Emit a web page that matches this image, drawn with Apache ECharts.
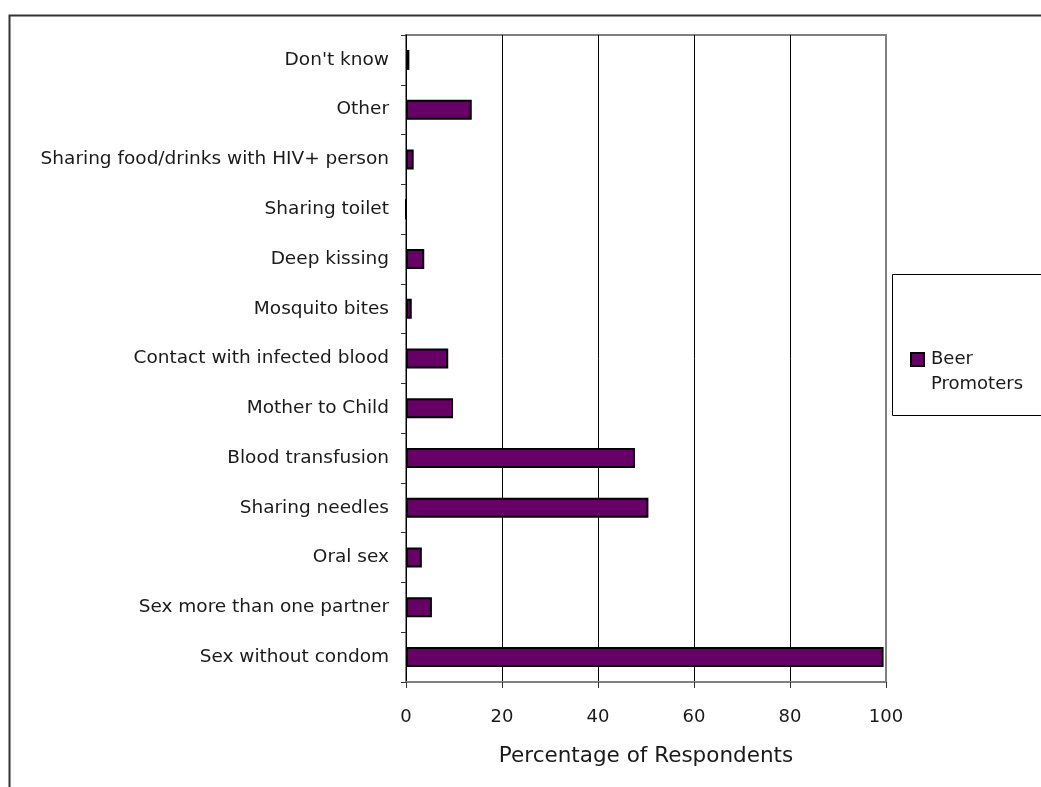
<!DOCTYPE html>
<html>
<head>
<meta charset="utf-8">
<script src="https://cdn.jsdelivr.net/npm/echarts@6/dist/echarts.min.js"></script>
<style>
  html, body { margin: 0; padding: 0; background: #fff; }
  #chart { width: 1041px; height: 787px; }
</style>
</head>
<body>
<div id="chart"></div>
<script>
// Modes of HIV transmission named by respondents (top to bottom)
const categories = [
  "Don't know",
  "Other",
  "Sharing food/drinks with HIV+ person",
  "Sharing toilet",
  "Deep kissing",
  "Mosquito bites",
  "Contact with infected blood",
  "Mother to Child",
  "Blood transfusion",
  "Sharing needles",
  "Oral sex",
  "Sex more than one partner",
  "Sex without condom"
];
const beerPromoters = [0.7, 13.7, 1.6, 0, 3.8, 1.2, 8.8, 9.8, 47.7, 50.5, 3.3, 5.4, 99.5];
const xTicks = [0, 20, 40, 60, 80, 100];
const seriesName = 'Beer Promoters';
const xAxisTitle = 'Percentage of Respondents';

const FONT = 'DejaVu Sans';
const BAR = '#660066';
const INK = '#1a1a1a';

const chart = echarts.init(document.getElementById('chart'), null, { renderer: 'canvas' });

// plot rectangle in pixels
const plotLeft = 406, plotTop = 35, plotRight = 886, plotBottom = 682;

chart.setOption({
  animation: false,
  backgroundColor: '#ffffff',
  textStyle: { fontFamily: FONT },
  grid: {
    left: plotLeft, top: plotTop,
    width: plotRight - plotLeft, height: plotBottom - plotTop,
    show: true, borderColor: '#808080', borderWidth: 2
  },
  xAxis: {
    type: 'value',
    min: xTicks[0], max: xTicks[xTicks.length - 1], interval: 20,
    name: xAxisTitle,
    nameLocation: 'middle',
    nameGap: 63,
    nameTextStyle: { fontFamily: FONT, fontSize: 21.5, color: INK },
    axisLine: { show: true, lineStyle: { color: '#808080', width: 2 } },
    axisTick: { show: true, length: 6, lineStyle: { color: '#333' } },
    axisLabel: { fontFamily: FONT, fontSize: 18, color: INK, margin: 26 },
    splitLine: { show: true, showMinLine: false, showMaxLine: false, lineStyle: { color: '#000', width: 1 } }
  },
  yAxis: {
    type: 'category',
    data: categories,
    inverse: true,
    axisLine: { show: true, lineStyle: { color: '#000', width: 1 } },
    axisTick: { show: true, length: 5, inside: false, lineStyle: { color: '#333' } },
    axisLabel: { fontFamily: FONT, fontSize: 18.5, color: INK, margin: 17 },
    splitLine: { show: false }
  },
  series: [{
    name: seriesName,
    type: 'bar',
    data: beerPromoters,
    barWidth: 20,
    itemStyle: { color: BAR, borderColor: '#000', borderWidth: 2 }
  }],
  graphic: [
    // outer chart frame
    { type: 'polyline', shape: { points: [[9.5, 787], [9.5, 15.5], [1041, 15.5]] },
      style: { stroke: '#333', lineWidth: 2, fill: null }, z: 10 },
    // legend box
    { type: 'rect', shape: { x: 892.5, y: 274.5, width: 160, height: 141 },
      style: { fill: '#fff', stroke: '#000', lineWidth: 1 }, z: 10 },
    { type: 'rect', shape: { x: 911, y: 353, width: 13, height: 13 },
      style: { fill: BAR, stroke: '#000', lineWidth: 2 }, z: 11 },
    { type: 'text', left: 931, top: 347,
      style: { text: seriesName.replace(' ', '\n'), font: '18px "' + FONT + '"', fill: INK, lineHeight: 25 }, z: 11 }
  ]
});
</script>
</body>
</html>
